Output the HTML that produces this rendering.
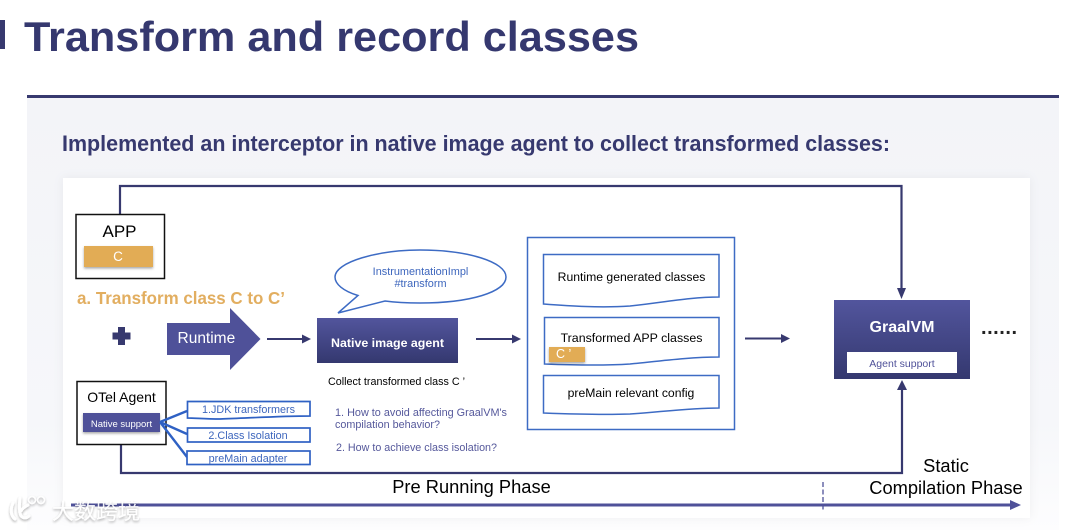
<!DOCTYPE html>
<html><head><meta charset="utf-8"><style>
html,body{margin:0;padding:0;background:#fff;width:1080px;height:530px;overflow:hidden}
svg{display:block;filter:blur(.35px)}
text{font-family:"Liberation Sans",sans-serif}
</style></head><body>
<svg width="1080" height="530" viewBox="0 0 1080 530" xmlns="http://www.w3.org/2000/svg">
<defs>
<linearGradient id="bg" x1="0" y1="0" x2="0" y2="1"><stop offset="0" stop-color="#f3f4f8"/><stop offset="0.75" stop-color="#f6f7fa"/><stop offset="1" stop-color="#fdfdfe"/></linearGradient>
<linearGradient id="box" x1="0" y1="0" x2="0" y2="1"><stop offset="0" stop-color="#52559d"/><stop offset="1" stop-color="#34386f"/></linearGradient>
<filter id="sh" x="-10%" y="-10%" width="120%" height="130%"><feDropShadow dx="0" dy="1.5" stdDeviation="1.2" flood-color="#000" flood-opacity=".35"/></filter>
<filter id="soft" x="-5%" y="-5%" width="110%" height="110%"><feDropShadow dx="0" dy="0" stdDeviation="5" flood-color="#000" flood-opacity=".05"/></filter>
</defs>
<rect x="27" y="97" width="1032" height="433" fill="url(#bg)"/>
<rect x="27" y="95" width="1032" height="3" fill="#37396f"/>
<rect x="0" y="20" width="5" height="29" fill="#37396f"/>
<text x="24" y="51" font-size="42" font-weight="700" fill="#35386f" textLength="615" lengthAdjust="spacingAndGlyphs">Transform and record classes</text>
<text x="62" y="151" font-size="22" font-weight="700" fill="#37396f" textLength="828" lengthAdjust="spacingAndGlyphs">Implemented an interceptor in native image agent to collect transformed classes:</text>
<rect x="63" y="178" width="967" height="340" fill="#fff" filter="url(#soft)"/>

<!-- top connector -->
<path d="M120 214V186H901.500V292" fill="none" stroke="#37396f" stroke-width="2.200"/>
<path d="M897 288H906L901.500 299Z" fill="#37396f"/>
<!-- bottom connector -->
<path d="M121 445V473H902V388" fill="none" stroke="#37396f" stroke-width="2.200"/>
<path d="M897 390H907L902 380Z" fill="#37396f"/>

<!-- APP -->
<rect x="76" y="214.500" width="88.500" height="64" fill="#fff" stroke="#111" stroke-width="1.500"/>
<text x="119.500" y="237" font-size="17" text-anchor="middle" fill="#000">APP</text>
<rect x="84" y="246" width="69" height="21" fill="#e2ac54" filter="url(#sh)"/>
<text x="118" y="261" font-size="13.500" text-anchor="middle" fill="#fff">C</text>
<text x="77" y="304" font-size="17.300" font-weight="700" fill="#e2ae60" textLength="208" lengthAdjust="spacingAndGlyphs">a. Transform class C to C’</text>
<path d="M118 327h7v5.500h5.500v7H125v5.500h-7v-5.500h-5.500v-7h5.500z" fill="#37396f"/>

<!-- Runtime -->
<path d="M167 323H230V308L260.500 339 230 370V355H167Z" fill="#4f5199"/>
<text x="177.500" y="343" font-size="15.500" fill="#fff">Runtime</text>
<path d="M267 339H304" stroke="#37396f" stroke-width="2"/><path d="M302 334.500L311 339 302 343.500Z" fill="#37396f"/>

<!-- bubble -->
<path d="M358 295.500C343 291 335 284 335 277 335 262 378 250 420 250 468 250 506 262 506 277 506 292 470 303 420 303 408 303 396 302.500 385 301L338 313Z" fill="#fff" stroke="#3d6bc4" stroke-width="1.500"/>
<text x="420.500" y="275" font-size="10.900" text-anchor="middle" fill="#3d66bd">InstrumentationImpl</text>
<text x="420.500" y="287" font-size="10.900" text-anchor="middle" fill="#3d66bd">#transform</text>

<!-- native image agent -->
<rect x="317" y="318" width="141" height="45" fill="url(#box)"/>
<text x="387.500" y="347" font-size="12.400" font-weight="700" text-anchor="middle" fill="#fff">Native image agent</text>
<text x="328" y="385" font-size="11" fill="#000" textLength="137" lengthAdjust="spacingAndGlyphs">Collect transformed class C ’</text>
<text x="335" y="416" font-size="10.800" fill="#55589b" textLength="172" lengthAdjust="spacingAndGlyphs">1. How to avoid affecting GraalVM's</text>
<text x="335" y="428" font-size="10.800" fill="#55589b" textLength="105" lengthAdjust="spacingAndGlyphs">compilation behavior?</text>
<text x="336" y="451" font-size="10.800" fill="#55589b" textLength="161" lengthAdjust="spacingAndGlyphs">2. How to achieve class isolation?</text>
<path d="M476 339H513" stroke="#37396f" stroke-width="2"/><path d="M512 334.500L521 339 512 343.500Z" fill="#37396f"/>

<!-- container -->
<rect x="527.500" y="237.500" width="207" height="192" fill="#fff" stroke="#3d6bc4" stroke-width="1.500"/>
<path d="M543.500 254.500H719V297C690 297 660 303 630 306 600 308 570 306 543.500 304Z" fill="#fff" stroke="#3d6bc4" stroke-width="1.500"/>
<text x="631.500" y="281" font-size="12.200" text-anchor="middle" fill="#000">Runtime generated classes</text>
<path d="M544.500 317.500H719V357C690 357 660 361 630 364 600 366 570 365 544.500 364Z" fill="#fff" stroke="#3d6bc4" stroke-width="1.500"/>
<text x="631.500" y="342" font-size="12.400" text-anchor="middle" fill="#000">Transformed APP classes</text>
<rect x="549" y="347" width="36" height="15" fill="#e2ac54" filter="url(#sh)"/>
<text x="556" y="358" font-size="12.500" fill="#fff">C ’</text>
<path d="M543.500 375.500H719V408C690 408 660 412 630 414 600 415 570 414 543.500 413Z" fill="#fff" stroke="#3d6bc4" stroke-width="1.500"/>
<text x="631" y="397" font-size="12.200" text-anchor="middle" fill="#000">preMain relevant config</text>

<path d="M745 338.500H782" stroke="#37396f" stroke-width="2"/><path d="M781 334L790 338.500 781 343Z" fill="#37396f"/>

<!-- GraalVM -->
<rect x="834" y="300" width="136" height="79" fill="url(#box)"/>
<text x="902" y="332" font-size="16" font-weight="700" text-anchor="middle" fill="#fff">GraalVM</text>
<rect x="847" y="352" width="110" height="21" fill="#fff"/>
<text x="902" y="367" font-size="10.500" text-anchor="middle" fill="#4f5199">Agent support</text>
<text x="981" y="334" font-size="20" font-weight="700" fill="#222" textLength="36" lengthAdjust="spacing">......</text>

<!-- OTel -->
<rect x="77" y="381.500" width="89" height="63" fill="#fff" stroke="#111" stroke-width="1.500"/>
<text x="121.500" y="402" font-size="14" text-anchor="middle" fill="#000">OTel Agent</text>
<rect x="83" y="413" width="77" height="19" fill="#4f5199" filter="url(#sh)"/>
<text x="121.500" y="427" font-size="9.500" text-anchor="middle" fill="#fff">Native support</text>
<path d="M160 422L187 411M160 422L187 434M160 422L187 457" stroke="#2f61c4" stroke-width="2.400" fill="none"/>
<path d="M187.500 401.500H310V416C280 416 250 418 220 419 205 419 195 418 187.500 418Z" fill="#fff" stroke="#2f61c4" stroke-width="1.700"/>
<text x="248.500" y="413" font-size="10.800" text-anchor="middle" fill="#3d66bd">1.JDK transformers</text>
<rect x="187.500" y="428" width="122.500" height="14" fill="#fff" stroke="#2f61c4" stroke-width="1.700"/>
<text x="248" y="439" font-size="10.800" text-anchor="middle" fill="#3d66bd">2.Class Isolation</text>
<rect x="187" y="451" width="123" height="13.500" fill="#fff" stroke="#2f61c4" stroke-width="1.700"/>
<text x="248" y="462" font-size="10.800" text-anchor="middle" fill="#3d66bd">preMain adapter</text>

<!-- timeline -->
<rect x="71" y="503.500" width="940" height="3" fill="#4f5199"/>
<path d="M1010 500L1021 505 1010 510Z" fill="#4f5199"/>
<path d="M823 482V511" stroke="#4f5199" stroke-width="1.300" stroke-dasharray="5 2.500"/>
<text x="471.500" y="493" font-size="18.300" text-anchor="middle" fill="#000">Pre Running Phase</text>
<text x="946" y="472" font-size="18.300" text-anchor="middle" fill="#000">Static</text>
<text x="946" y="494" font-size="18.300" text-anchor="middle" fill="#000">Compilation Phase</text>

<!-- watermark -->
<g opacity=".9" filter="url(#sh)">
<path d="M13 503C10 510 11 516 15 519M20 498C19 506 19 512 21 516 24 519 27 518 29 516M28 505C24 507 22 509 21 511" fill="none" stroke="#fff" stroke-width="3" stroke-linecap="round"/>
<circle cx="32" cy="500" r="3.500" fill="none" stroke="#fff" stroke-width="1.500"/>
<circle cx="41" cy="500" r="3.500" fill="none" stroke="#fff" stroke-width="1.500"/>
<text x="52" y="519" font-size="21.500" fill="#fff" style='font-family:"Liberation Sans","Noto Sans CJK SC",sans-serif' textLength="88" lengthAdjust="spacingAndGlyphs">大数跨境</text>
</g>
</svg>
</body></html>
